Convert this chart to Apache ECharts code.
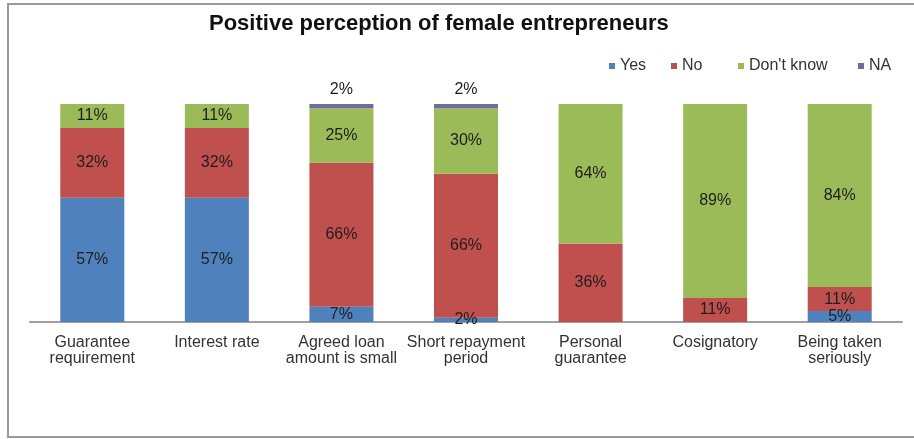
<!DOCTYPE html>
<html>
<head>
<meta charset="utf-8">
<script src="https://cdn.jsdelivr.net/npm/echarts@6/dist/echarts.min.js"></script>
<style>
  html, body { margin: 0; padding: 0; background: #ffffff; }
  #chart { width: 914px; height: 439px; }
</style>
</head>
<body>
<div id="chart"></div>
<script>
// Categories along the x axis
const categories = [
  'Guarantee\nrequirement',
  'Interest rate',
  'Agreed loan\namount is small',
  'Short repayment\nperiod',
  'Personal\nguarantee',
  'Cosignatory',
  'Being taken\nseriously'
];

// Share of answers per category (percent)
const yesValues      = [57, 57, 7, 2, 0, 0, 5];
const noValues       = [32, 32, 66, 66, 36, 11, 11];
const dontKnowValues = [11, 11, 25, 30, 64, 89, 84];
const naValues       = [0, 0, 2, 2, 0, 0, 0];

const seriesNames = ['Yes', 'No', "Don't know", 'NA'];
const seriesColors = ['#4f81bd', '#c0504d', '#9bbb59', '#6f6a9f'];

const FONT = 'Liberation Sans, Arial, Helvetica, sans-serif';

function pctLabel(p) {
  return p.value > 0 ? p.value + '%' : '';
}

function barSeries(name, values, color, labelPos) {
  return {
    name: name,
    type: 'bar',
    stack: 'total',
    barWidth: 64,
    data: values,
    itemStyle: { color: color },
    label: {
      show: true,
      position: labelPos,
      distance: 6,
      formatter: pctLabel,
      color: '#1e1e1e',
      fontFamily: FONT,
      fontSize: 16
    },
    emphasis: { disabled: true }
  };
}

// One legend block per entry so each item sits at its own column
const legendLefts = [604, 666, 733, 853];
const legends = seriesNames.map((n, i) => ({
  data: [n],
  left: legendLefts[i],
  top: 53,
  icon: 'rect',
  itemWidth: 6,
  itemHeight: 6,
  textStyle: { fontFamily: FONT, fontSize: 16, color: '#333' },
  selectedMode: false
}));

const chart = echarts.init(document.getElementById('chart'), null, { renderer: 'canvas' });
chart.setOption({
  animation: false,
  backgroundColor: '#ffffff',
  title: {
    text: 'Positive perception of female entrepreneurs',
    left: 204,
    top: 8,
    textStyle: { fontFamily: FONT, fontSize: 22, fontWeight: 'bold', color: '#111' }
  },
  legend: legends,
  grid: { left: 30, right: 12, top: 104, bottom: 117 },
  xAxis: {
    type: 'category',
    data: categories,
    axisLine: { show: true, lineStyle: { color: '#a0a0a0', width: 2 } },
    axisTick: { show: false },
    axisLabel: {
      interval: 0,
      margin: 13,
      fontFamily: FONT,
      fontSize: 16,
      lineHeight: 16,
      color: '#333'
    }
  },
  yAxis: {
    type: 'value',
    min: 0,
    max: 100,
    show: false,
    splitLine: { show: false }
  },
  series: [
    barSeries('Yes', yesValues, seriesColors[0], 'inside'),
    barSeries('No', noValues, seriesColors[1], 'inside'),
    barSeries("Don't know", dontKnowValues, seriesColors[2], 'inside'),
    barSeries('NA', naValues, seriesColors[3], 'top')
  ],
  graphic: [{
    type: 'rect',
    shape: { x: 8, y: 4, width: 920, height: 433 },
    style: { fill: 'none', stroke: '#9a9a9a', lineWidth: 2 },
    silent: true,
    z: 100
  }]
});
</script>
</body>
</html>
